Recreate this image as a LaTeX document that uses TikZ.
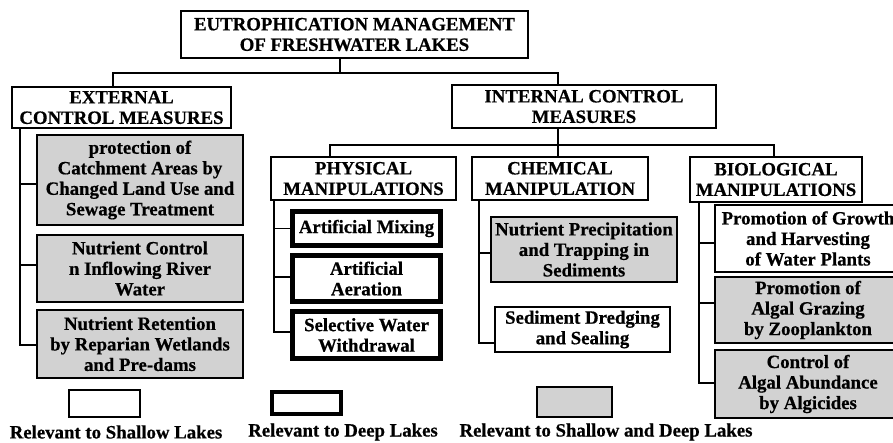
\documentclass[tikz,border=0pt]{standalone}
\usepackage{fontspec}
\setmainfont{Liberation Serif}[BoldFeatures={FakeBold=0.6}]
\tikzset{
  box/.style={draw, line width=1.8pt, align=center, inner sep=0pt,
    font=\fontsize{18.8}{20.5}\selectfont\bfseries},
  shallow/.style={box, fill=white},
  deep/.style={box, fill=white, line width=4.2pt},
  both/.style={box, fill=gray!35},
  link/.style={line width=1.8pt},
  legtext/.style={font=\fontsize{18.8}{20.5}\selectfont\bfseries},
}
\begin{document}
\begin{tikzpicture}[x=1pt, y=-1pt]
\useasboundingbox (0,0) rectangle (893,442);
% top level
\node[shallow, minimum width=347pt, minimum height=47pt] (root) at (354.5,34.5) {EUTROPHICATION MANAGEMENT\\OF FRESHWATER LAKES};
\node[shallow, minimum width=219pt, minimum height=41pt] (ext) at (121.5,107.5) {EXTERNAL\\CONTROL MEASURES};
\node[shallow, minimum width=264pt, minimum height=43pt] (int) at (584,106.5) {INTERNAL CONTROL\\MEASURES};
% external measures
\node[both, minimum width=206pt, minimum height=90pt] (e1) at (140,180) {protection of\\Catchment Areas by\\Changed Land Use and\\Sewage Treatment};
\node[both, minimum width=206pt, minimum height=67pt] (e2) at (140,268.5) {Nutrient Control\\n Inflowing River\\Water};
\node[both, minimum width=206pt, minimum height=68pt] (e3) at (140,344) {Nutrient Retention\\by Reparian Wetlands\\and Pre-dams};
% internal measures
\node[shallow, minimum width=185pt, minimum height=43pt] (phys) at (363.5,178.5) {PHYSICAL\\MANIPULATIONS};
\node[shallow, minimum width=176pt, minimum height=43pt] (chem) at (560,178.5) {CHEMICAL\\MANIPULATION};
\node[shallow, minimum width=172pt, minimum height=45pt] (bio) at (776,179.5) {BIOLOGICAL\\MANIPULATIONS};
\node[deep, minimum width=148pt, minimum height=34pt] (p1) at (366.5,228.5) {Artificial Mixing};
\node[deep, minimum width=148pt, minimum height=46pt] (p2) at (366.5,278.5) {Artificial\\Aeration};
\node[deep, minimum width=148pt, minimum height=47pt] (p3) at (366.5,335) {Selective Water\\Withdrawal};
\node[both, minimum width=186pt, minimum height=65pt] (c1) at (584,249.5) {Nutrient Precipitation\\and Trapping in\\Sediments};
\node[shallow, minimum width=175pt, minimum height=45pt] (c2) at (582.5,329.5) {Sediment Dredging\\and Sealing};
\node[shallow, minimum width=186pt, minimum height=67pt] (b1) at (808,238.5) {Promotion of Growth\\and Harvesting\\of Water Plants};
\node[both, minimum width=186pt, minimum height=66pt] (b2) at (808,310) {Promotion of\\Algal Grazing\\by Zooplankton};
\node[both, minimum width=186pt, minimum height=68pt] (b3) at (808,384) {Control of\\Algal Abundance\\by Algicides};
% tree lines
\draw[link] ([xshift=-14.5pt]root.south) -- ++(0,14) coordinate (rj);
\draw[link] (rj) -| ([xshift=-8.5pt]ext.north);
\draw[link] (rj) -| ([xshift=-26pt]int.north);
\draw[link] ([xshift=-26pt]int.south) -- ++(0,16) coordinate (ij);
\draw[link] (ij) -| ([xshift=-33.5pt]phys.north);
\draw[link] (ij) -| ([xshift=-2pt]chem.north);
\draw[link] (ij) -| ([xshift=-2pt]bio.north);
\coordinate (es) at ([xshift=9pt]ext.south west);
\coordinate (ps) at ([xshift=4pt]phys.south west);
\coordinate (cs) at ([xshift=8pt]chem.south west);
\coordinate (bs) at ([xshift=10pt]bio.south west);
\draw[link] (es) |- ([yshift=-1pt]e3.west);
\draw[link] (ps) |- ([yshift=3pt]p3.west);
\draw[link] (cs) |- ([yshift=-13.5pt]c2.west);
\draw[link] (bs) |- ([yshift=1pt]b3.west);
\foreach \n/\dy/\s in {e1/-4/es, e2/3.5/es, p1/0/ps, p2/1.5/ps, c1/-3.5/cs, b1/-4.5/bs, b2/7/bs}
  \draw[link] ([yshift=\dy pt]\n.west) -- ([yshift=\dy pt]\n.west -| \s);
% legend
\node[shallow, minimum width=71pt, minimum height=27pt] (lshallow) at (104.5,403.5) {};
\node[deep, minimum width=69pt, minimum height=22pt] (ldeep) at (306.5,403) {};
\node[both, minimum width=75pt, minimum height=30pt] (lboth) at (574.5,402) {};
\node[legtext] (tshallow) at (116,432) {Relevant to Shallow Lakes};
\node[legtext] (tdeep) at (343,432) {Relevant to Deep Lakes};
\node[legtext] (tboth) at (606,432) {Relevant to Shallow and Deep Lakes};
\end{tikzpicture}
\end{document}
